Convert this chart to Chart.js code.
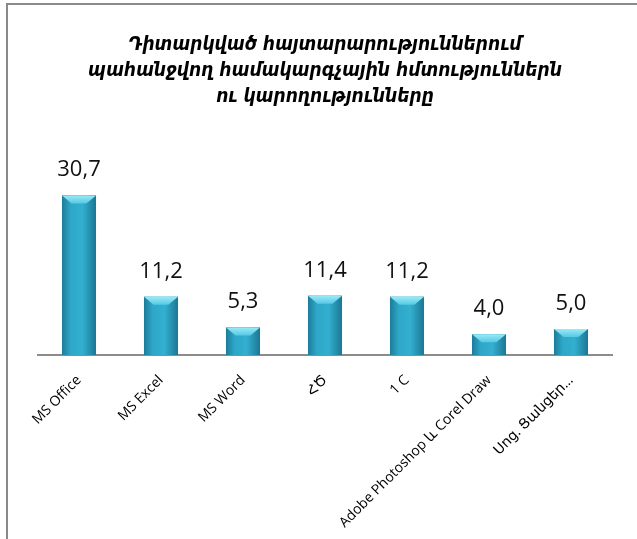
<!DOCTYPE html>
<html>
<head>
<meta charset="utf-8">
<script src="https://cdn.jsdelivr.net/npm/chart.js@4"></script>
<style>
    html, body { margin: 0; padding: 0; background: #fff; }
    #wrap { position: relative; width: 637px; height: 539px; }
    #frame {
        position: absolute; left: 6px; top: 3px; right: 0; bottom: 0;
        border-top: 2px solid #8a8a8a; border-left: 2px solid #8a8a8a;
        pointer-events: none;
    }
</style>
</head>
<body>
<div id="wrap">
    <canvas id="skillsChart" width="637" height="539"></canvas>
    <div id="frame"></div>
</div>
<script>
'use strict';

// ============================================================================
// Data
// ============================================================================

const titleLines = [
    'Դիտարկված հայտարարություններում',
    'պահանջվող համակարգչային հմտություններն',
    'ու կարողությունները'
];

const categories = [
    'MS Office',
    'MS Excel',
    'MS Word',
    'ՀԾ',
    '1 C',
    'Adobe Photoshop և Corel Draw',
    'Սոց. Ցանցեր…'
];

const shares = [30.7, 11.2, 5.3, 11.4, 11.2, 4.0, 5.0];

// ============================================================================
// Plugins
// ============================================================================

/**
 * Paint the bars with a cylinder-like gradient, a light bevel on top
 * and the value above each bar (comma as decimal separator)
 */
const barDecor = {
    id: 'barDecor',
    afterDatasetsDraw(chart) {
        const ctx = chart.ctx;
        const meta = chart.getDatasetMeta(0);
        ctx.save();
        meta.data.forEach((bar, i) => {
            const { x, y, base, width } = bar.getProps(['x', 'y', 'base', 'width'], true);
            const l = x - width / 2;
            const r = x + width / 2;

            const g = ctx.createLinearGradient(l, 0, r, 0);
            g.addColorStop(0, '#1c7c9a');
            g.addColorStop(0.25, '#2ea6c7');
            g.addColorStop(0.6, '#33afd0');
            g.addColorStop(1, '#1b7794');
            ctx.fillStyle = g;
            ctx.fillRect(l, y, width, base - y);

            // top bevel
            const b = Math.min(8, (base - y) / 2);
            const gb = ctx.createLinearGradient(0, y, 0, y + b);
            gb.addColorStop(0, '#9aeaf7');
            gb.addColorStop(1, '#55c9e3');
            ctx.fillStyle = gb;
            ctx.beginPath();
            ctx.moveTo(l, y);
            ctx.lineTo(r, y);
            ctx.lineTo(r - b * 1.2, y + b);
            ctx.lineTo(l + b * 1.2, y + b);
            ctx.closePath();
            ctx.fill();

            // value label
            ctx.fillStyle = '#111';
            ctx.font = '22px "Open Sans", "DejaVu Sans", sans-serif';
            ctx.textAlign = 'center';
            ctx.textBaseline = 'alphabetic';
            ctx.fillText(shares[i].toFixed(1).replace('.', ','), x, y - 19);
        });
        ctx.restore();
    }
};

// ============================================================================
// Chart
// ============================================================================

new Chart(document.getElementById('skillsChart'), {
    type: 'bar',
    data: {
        labels: categories,
        datasets: [{
            data: shares,
            backgroundColor: '#2ea6c7',
            borderWidth: 0,
            categoryPercentage: 1,
            barPercentage: 0.415
        }]
    },
    options: {
        responsive: false,
        animation: false,
        devicePixelRatio: 1,
        layout: {
            padding: { left: 38, right: 25, top: 0, bottom: 0 }
        },
        plugins: {
            legend: { display: false },
            tooltip: { enabled: false },
            title: {
                display: true,
                text: titleLines,
                color: '#000',
                font: {
                    family: '"DejaVu Sans Condensed", "DejaVu Sans", sans-serif',
                    size: 19,
                    style: 'italic',
                    weight: 'bold',
                    lineHeight: 1.37
                },
                padding: { top: 32, bottom: 63 }
            }
        },
        scales: {
            x: {
                grid: { display: false },
                border: { color: '#8c8c8c', width: 2 },
                ticks: {
                    color: '#000',
                    minRotation: 45,
                    maxRotation: 45,
                    autoSkip: false,
                    padding: 9,
                    font: { family: '"Open Sans", "DejaVu Sans", sans-serif', size: 14 }
                },
                afterFit(scale) {
                    scale.height = 184;
                }
            },
            y: {
                display: false,
                min: 0,
                max: 35
            }
        }
    },
    plugins: [barDecor]
});
</script>
</body>
</html>
